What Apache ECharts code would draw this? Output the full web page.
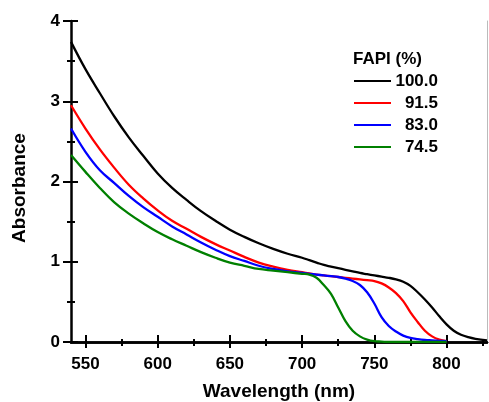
<!DOCTYPE html>
<html>
<head>
<meta charset="utf-8">
<script src="https://cdn.jsdelivr.net/npm/echarts@6/dist/echarts.min.js"></script>
<style>
  html, body { margin: 0; padding: 0; background: #fff; }
  #main { width: 489px; height: 402px; }
</style>
</head>
<body>
<div id="main"></div>
<script>
// wavelength grid (nm) and absorbance values
var wavelengths = [540, 550, 560, 570, 580, 590, 600, 610, 620, 630, 640, 650, 660, 670, 680, 690,
    700, 705, 710, 715, 720, 725, 730, 735, 740, 745, 750, 755, 760, 765, 770, 775, 780, 785,
    790, 795, 800, 805, 810, 815, 820, 828];

var fapi100 = [3.74, 3.40, 3.10, 2.81, 2.55, 2.32, 2.10, 1.92, 1.77, 1.63, 1.51, 1.40, 1.31, 1.23, 1.16, 1.10,
    1.05, 1.02, 0.99, 0.96, 0.94, 0.92, 0.90, 0.88, 0.86, 0.845, 0.83, 0.815, 0.80, 0.78, 0.75, 0.70, 0.62, 0.53,
    0.43, 0.32, 0.22, 0.14, 0.09, 0.06, 0.04, 0.02];
var fapi915 = [2.95, 2.66, 2.40, 2.17, 1.96, 1.79, 1.64, 1.51, 1.41, 1.31, 1.22, 1.14, 1.06, 0.99, 0.94, 0.90,
    0.87, 0.855, 0.84, 0.83, 0.82, 0.81, 0.80, 0.79, 0.78, 0.77, 0.76, 0.73, 0.68, 0.61, 0.51, 0.37, 0.25, 0.14,
    0.07, 0.03, 0.01, null, null, null, null, null];
var fapi830 = [2.66, 2.37, 2.14, 1.98, 1.82, 1.68, 1.56, 1.44, 1.34, 1.24, 1.15, 1.07, 1.01, 0.95, 0.91, 0.88,
    0.86, 0.85, 0.84, 0.83, 0.82, 0.81, 0.79, 0.76, 0.71, 0.62, 0.48, 0.31, 0.20, 0.13, 0.08, 0.05, 0.035, 0.025,
    0.02, 0.015, 0.01, null, null, null, null, null];
var fapi745 = [2.33, 2.12, 1.92, 1.74, 1.60, 1.48, 1.37, 1.28, 1.20, 1.12, 1.05, 0.99, 0.95, 0.91, 0.89, 0.87,
    0.85, 0.84, 0.80, 0.71, 0.60, 0.43, 0.26, 0.14, 0.07, 0.03, 0.01, 0.005, 0, 0, 0, 0, 0, 0,
    0, 0, 0, null, null, null, null, null];

var seriesNames = ['100.0', '91.5', '83.0', '74.5'];
var seriesColors = ['#000000', '#ff0000', '#0000ff', '#008000'];
var seriesValues = [fapi100, fapi915, fapi830, fapi745];

var xMajor = [550, 600, 650, 700, 750, 800];
var xMinor = [575, 625, 675, 725, 775, 825];
var yMinor = [0.5, 1.5, 2.5, 3.5];

var font = 'Liberation Sans';

function pairs(vals) {
    var out = [];
    for (var i = 0; i < wavelengths.length; i++) {
        if (vals[i] !== null) out.push([wavelengths[i], vals[i]]);
    }
    return out;
}

// overlay axis that only draws ticks
function tickX(values, len, inside) {
    return {
        type: 'value', min: 540, max: 828, position: 'bottom',
        axisLine: {show: false}, splitLine: {show: false},
        axisLabel: {show: false},
        axisTick: {show: true, inside: inside, length: len, customValues: values,
            lineStyle: {color: '#000', width: 2}}
    };
}
function tickY(values, len, inside) {
    return {
        type: 'value', min: 0, max: 4, position: 'left',
        axisLine: {show: false}, splitLine: {show: false},
        axisLabel: {show: false},
        axisTick: {show: true, inside: inside, length: len, customValues: values,
            lineStyle: {color: '#000', width: 2}}
    };
}

var chart = echarts.init(document.getElementById('main'));

var series = [];
for (var s = 0; s < seriesNames.length; s++) {
    series.push({
        name: seriesNames[s],
        type: 'line',
        smooth: 0.4,
        symbol: 'none',
        xAxisIndex: 0,
        yAxisIndex: 0,
        color: seriesColors[s],
        lineStyle: {width: 2.3, color: seriesColors[s]},
        data: pairs(seriesValues[s])
    });
}

chart.setOption({
    animation: false,
    backgroundColor: '#fff',
    title: {
        text: 'FAPI (%)',
        left: 353, top: 51,
        padding: 0,
        textStyle: {fontFamily: font, fontWeight: 'bold', fontSize: 17, color: '#000'}
    },
    legend: {
        orient: 'vertical',
        left: 354, top: 70,
        padding: 0,
        icon: 'rect',
        itemWidth: 37, itemHeight: 2, itemGap: 0,
        data: seriesNames,
        formatter: function (name) { return '{v|' + name + '}'; },
        textStyle: {
            fontFamily: font, fontWeight: 'bold', fontSize: 17, color: '#000',
            rich: {v: {width: 42, height: 22, lineHeight: 22, align: 'right',
                fontFamily: font, fontWeight: 'bold', fontSize: 17}}
        }
    },
    graphic: [{
        type: 'text',
        x: 20, y: 188,
        rotation: Math.PI / 2,
        style: {
            text: 'Absorbance',
            fontFamily: font, fontWeight: 'bold', fontSize: 19, fill: '#000',
            align: 'center', verticalAlign: 'middle'
        }
    }],
    grid: {left: 71, right: 2, top: 21, bottom: 60, containLabel: false, outerBoundsMode: 'none'},
    xAxis: [
        {
            type: 'value', min: 540, max: 828, position: 'bottom',
            name: 'Wavelength (nm)', nameLocation: 'middle', nameGap: 40,
            nameTextStyle: {fontFamily: font, fontWeight: 'bold', fontSize: 19, color: '#000'},
            axisLine: {show: true, lineStyle: {color: '#000', width: 2.5}},
            splitLine: {show: false},
            axisTick: {show: true, length: 6, customValues: xMajor, lineStyle: {color: '#000', width: 2}},
            axisLabel: {customValues: xMajor, margin: 14, fontFamily: font, fontWeight: 'bold', fontSize: 17, color: '#000'}
        },
        tickX(xMajor, 7, true),
        tickX(xMinor, 4, false),
        tickX(xMinor, 3, true),
        {
            type: 'value', min: 540, max: 828, position: 'top',
            axisLine: {show: true, lineStyle: {color: '#000', width: 2.5}},
            axisTick: {show: false}, axisLabel: {show: false}, splitLine: {show: false}
        }
    ],
    yAxis: [
        {
            type: 'value', min: 0, max: 4, interval: 1, position: 'left',
            axisLine: {show: true, lineStyle: {color: '#000', width: 2.5}},
            splitLine: {show: false},
            axisTick: {show: true, length: 8, lineStyle: {color: '#000', width: 2}},
            axisLabel: {margin: 11, fontFamily: font, fontWeight: 'bold', fontSize: 17, color: '#000'}
        },
        tickY([0, 1, 2, 3, 4], 7, true),
        tickY(yMinor, 4, false),
        tickY(yMinor, 4, true),
        {
            type: 'value', min: 0, max: 4, position: 'right',
            axisLine: {show: true, lineStyle: {color: '#bbbbbb', width: 1}},
            axisTick: {show: false}, axisLabel: {show: false}, splitLine: {show: false}
        }
    ],
    series: series
});
</script>
</body>
</html>
